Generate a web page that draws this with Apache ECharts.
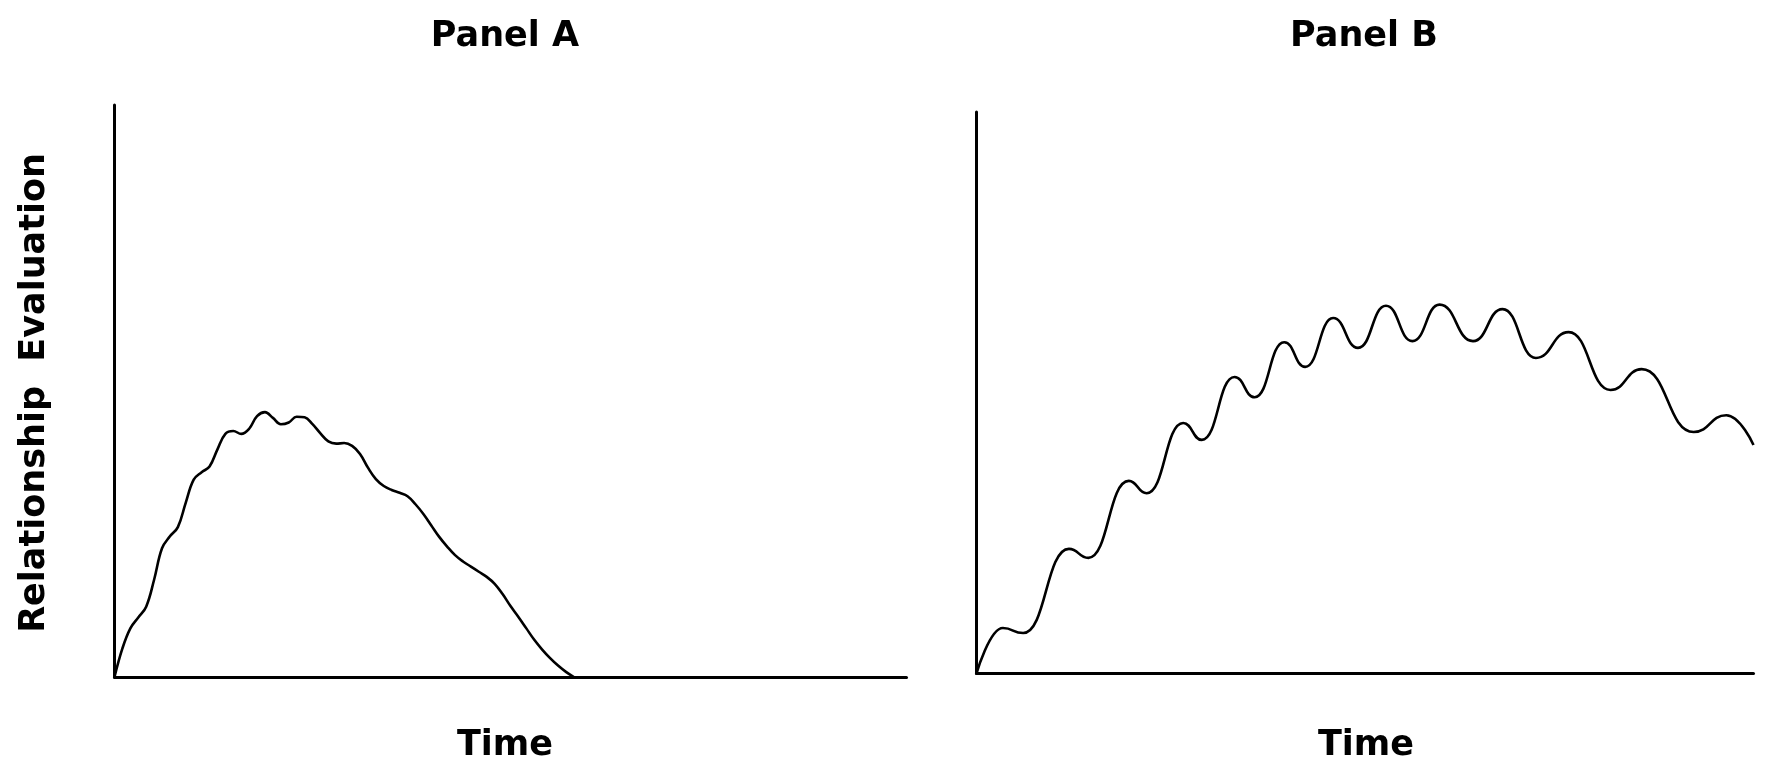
<!DOCTYPE html>
<html>
<head>
<meta charset="utf-8">
<script src="https://cdn.jsdelivr.net/npm/echarts@6/dist/echarts.min.js"></script>
<style>html,body{margin:0;padding:0;background:#fff;}#c{width:1774px;height:784px;}</style>
</head>
<body>
<div id="c"></div>
<script>
// Panel A: relationship evaluation over time (abstract units 0-100), sampled every time unit
var panelATime = [0,1,2,3,4,5,6,7,8,9,10,11,12,13,14,15,16,17,18,19,20,21,22,23,24,25,26,27,28,29,30,31,32,33,34,35,36,37,38,39,40,41,42,43,44,45,46,47,48,49,50,51,52,53,54,55,56,57,58];
var panelAEval = [0,5,8.5,10.4,12.3,17,22.5,24.6,26.2,30.5,34.5,35.8,36.8,39.8,42.5,43,42.5,43.4,45.6,46.3,45.3,44.2,44.5,45.5,45.4,44.2,42.6,41.2,40.8,40.9,40.4,39,36.6,34.6,33.4,32.7,32.2,31.6,30.2,28.5,26.5,24.5,22.8,21.3,20.2,19.3,18.4,17.5,16.3,14.5,12.4,10.5,8.5,6.5,4.8,3.3,2,0.9,0];
// Panel B: peaks and troughs
var panelBTime = [0, 3.4, 6.0, 11.9, 14.4, 19.6, 21.9, 26.6, 29.0, 33.2, 35.8, 39.6, 42.3, 45.9, 49.1, 52.7, 56.1, 59.6, 63.9, 67.7, 72.0, 76.2, 81.6, 85.6, 92.3, 96.5, 100];
var panelBEval = [0, 8.1, 7.2, 22.2, 20.6, 34.3, 32.1, 44.6, 41.6, 52.8, 49.2, 59.0, 54.6, 63.3, 58.0, 65.5, 59.2, 65.7, 59.2, 64.9, 56.2, 60.8, 50.5, 54.2, 43.0, 46.0, 40.7];

var titles = ['Panel A', 'Panel B'];
var xName = 'Time';
var yName = 'Relationship  Evaluation';

function pairs(xs, ys) { return xs.map(function (x, i) { return [x, ys[i]]; }); }

var font = '"DejaVu Sans", sans-serif';
var axisStyle = {
  type: 'value', min: 0, max: 100,
  axisLine: { show: true, onZero: false, lineStyle: { color: '#000', width: 3 } },
  axisTick: { show: false }, axisLabel: { show: false }, splitLine: { show: false }
};
function ax(i) { var o = JSON.parse(JSON.stringify(axisStyle)); o.gridIndex = i; return o; }

var chart = echarts.init(document.getElementById('c'), null, { renderer: 'canvas' });
chart.setOption({
  animation: false,
  backgroundColor: '#fff',
  grid: [
    { left: 114.5, top: 105, width: 792, height: 572 },
    { left: 976.5, top: 112, width: 777, height: 561.5 }
  ],
  xAxis: [ax(0), ax(1)],
  yAxis: [ax(0), ax(1)],
  series: [
    { type: 'line', xAxisIndex: 0, yAxisIndex: 0, data: pairs(panelATime, panelAEval), smooth: 0.4, showSymbol: false, lineStyle: { color: '#000', width: 2.6 } },
    { type: 'line', xAxisIndex: 1, yAxisIndex: 1, data: pairs(panelBTime, panelBEval), smooth: 0.5, smoothMonotone: 'x', showSymbol: false, lineStyle: { color: '#000', width: 2.6 } }
  ],
  graphic: [
    { type: 'text', x: 505, y: 37, style: { text: titles[0], font: 'bold 35px ' + font, fill: '#000', align: 'center', verticalAlign: 'middle' } },
    { type: 'text', x: 1364, y: 37, style: { text: titles[1], font: 'bold 35px ' + font, fill: '#000', align: 'center', verticalAlign: 'middle' } },
    { type: 'text', x: 505, y: 746, style: { text: xName, font: 'bold 35px ' + font, fill: '#000', align: 'center', verticalAlign: 'middle' } },
    { type: 'text', x: 1366, y: 746, style: { text: xName, font: 'bold 35px ' + font, fill: '#000', align: 'center', verticalAlign: 'middle' } },
    { type: 'text', x: 35, y: 393, rotation: Math.PI / 2, style: { text: yName, font: 'bold 35px ' + font, fill: '#000', align: 'center', verticalAlign: 'middle' } }
  ]
});
</script>
</body>
</html>
